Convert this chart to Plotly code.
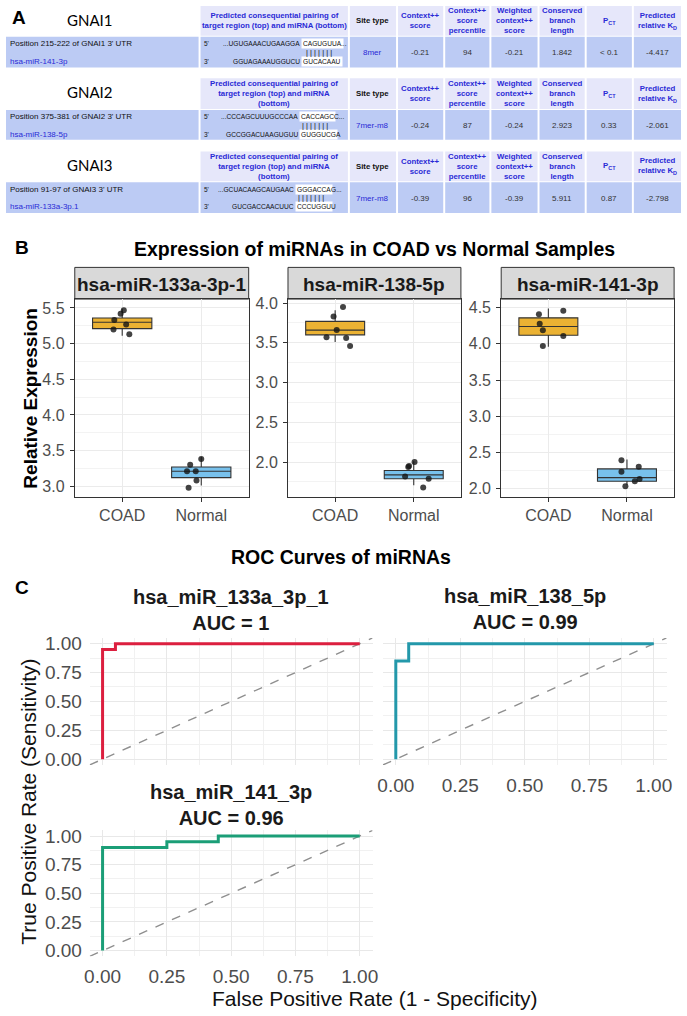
import plotly.graph_objects as go

W, H = 687, 1016
def X(p): return p / W
def Y(p): return 1 - p / H

# ---------------- Panel A data ----------------
genes = ["GNAI1", "GNAI2", "GNAI3"]
utr_positions = ["Position 215-222 of GNAI1 3' UTR",
                 "Position 375-381 of GNAI2 3' UTR",
                 "Position 91-97 of GNAI3 3' UTR"]
mirna_names = ["hsa-miR-141-3p", "hsa-miR-138-5p", "hsa-miR-133a-3p.1"]
target_pre = ["...UGUGAAACUGAAGGA", "...CCCAGCUUUGCCCAA", "...GCUACAAGCAUGAAC"]
target_seed = ["CAGUGUUA", "CACCAGC", "GGGACCA"]
target_post = ["...", "C...", "G..."]
mirna_pre = ["GGUAGAAAUGGUCU", "GCCGGACUAAGUGUU", "GUCGACCAACUUC"]
mirna_seed = ["GUCACAAU", "GUGGUCG", "CCCUGGU"]
mirna_post = ["", "A", "U"]
site_types = ["8mer", "7mer-m8", "7mer-m8"]
context_scores = ["-0.21", "-0.24", "-0.39"]
context_percentiles = ["94", "87", "96"]
weighted_scores = ["-0.21", "-0.24", "-0.39"]
branch_lengths = ["1.842", "2.923", "5.911"]
pct_values = ["< 0.1", "0.33", "0.87"]
kd_values = ["-4.417", "-2.061", "-2.798"]
pairing_headers = ["Predicted consequential pairing of<br>target region (top) and miRNA (bottom)",
                   "Predicted consequential pairing of<br>target region (top) and miRNA<br>(bottom)",
                   "Predicted consequential pairing of<br>target region (top) and miRNA<br>(bottom)"]
column_headers = ["Site type", "Context++<br>score", "Context++<br>score<br>percentile",
                  "Weighted<br>context++<br>score", "Conserved<br>branch<br>length",
                  "P<sub>CT</sub>", "Predicted<br>relative K<sub>D</sub>"]

# ---------------- Panel B data ----------------
expr_panels = ["hsa-miR-133a-3p-1", "hsa-miR-138-5p", "hsa-miR-141-3p"]
groups = ["COAD", "Normal"]
box_q1 = [[5.21, 3.12], [3.60, 1.79], [4.12, 2.10]]
box_median = [[5.30, 3.21], [3.66, 1.84], [4.24, 2.15]]
box_q3 = [[5.36, 3.27], [3.77, 1.895], [4.36, 2.27]]
box_low = [[5.11, 3.01], [3.51, 1.71], [3.96, 2.05]]
box_high = [[5.49, 3.41], [3.91, 2.01], [4.49, 2.40]]
pts_133_coad = [5.33, 5.42, 5.47, 5.27, 5.20, 5.13]
pts_133_normal = [3.30, 3.21, 3.21, 3.08, 3.38, 2.98]
pts_138_coad = [3.83, 3.95, 3.66, 3.57, 3.56, 3.46]
pts_138_normal = [1.94, 1.95, 2.00, 1.82, 1.79, 1.68]
pts_141_coad = [4.41, 4.28, 4.19, 3.97, 4.46, 4.11]
pts_141_normal = [2.39, 2.23, 2.30, 2.10, 2.13, 2.03]
jit_133_coad = [-0.10, -0.02, 0.02, 0.05, -0.11, 0.09]
jit_133_normal = [-0.14, -0.18, -0.07, -0.06, 0.00, -0.16]
jit_138_coad = [-0.02, 0.10, 0.02, -0.11, 0.14, 0.19]
jit_138_normal = [-0.07, -0.06, 0.01, -0.11, 0.19, 0.12]
jit_141_coad = [-0.12, -0.11, -0.07, -0.07, 0.19, 0.19]
jit_141_normal = [-0.07, -0.07, 0.15, 0.10, 0.16, -0.02]
expr_points = [[pts_133_coad, pts_133_normal], [pts_138_coad, pts_138_normal], [pts_141_coad, pts_141_normal]]
expr_jitter = [[jit_133_coad, jit_133_normal], [jit_138_coad, jit_138_normal], [jit_141_coad, jit_141_normal]]
expr_yranges = [[2.847, 5.625], [1.56, 4.05], [1.88, 4.62]]

# ---------------- Panel C data ----------------
roc_names = ["hsa_miR_133a_3p_1", "hsa_miR_138_5p", "hsa_miR_141_3p"]
roc_auc = ["1", "0.99", "0.96"]
fpr_133 = [0, 0, 0.05, 0.05, 1]
tpr_133 = [0, 0.95, 0.95, 1, 1]
fpr_138 = [0, 0, 0.05, 0.05, 1]
tpr_138 = [0, 0.85, 0.85, 1, 1]
fpr_141 = [0, 0, 0.25, 0.25, 0.45, 0.45, 1]
tpr_141 = [0, 0.90, 0.90, 0.95, 0.95, 1, 1]
roc_fpr = [fpr_133, fpr_138, fpr_141]
roc_tpr = [tpr_133, tpr_138, tpr_141]
roc_ticks = [0, 0.25, 0.5, 0.75, 1.0]

# ---------------- styles ----------------
FONT = "Liberation Sans"
HEAD_BG = "#e6e7fa"
DATA_BG = "#bccbf4"
LINK = "#2a2ad6"
BOX_COLORS = ["#ebb233", "#78c1ec"]
ROC_COLORS = ["#dc1f3f", "#2398aa", "#1b9e77"]

shapes, annotations = [], []

def txt(x, y, s, size, color="#000000", bold=False, xa="center", ya="middle",
        font=FONT, bg=None, pad=0, angle=0):
    if bold:
        s = "<b>" + s + "</b>"
    d = dict(x=X(x), y=Y(y), xref="paper", yref="paper", text=s, showarrow=False,
             xanchor=xa, yanchor=ya, borderpad=pad, textangle=angle,
             font=dict(size=size, color=color, family=font))
    if bg:
        d["bgcolor"] = bg
    annotations.append(d)

def rect(x0, y0, x1, y1, fill, line=None, lw=0):
    shapes.append(dict(type="rect", xref="paper", yref="paper",
                       x0=X(x0), x1=X(x1), y0=Y(y1), y1=Y(y0),
                       fillcolor=fill, line=dict(color=line or fill, width=lw),
                       layer="below"))

GLYPH = {"A": 0.667, "C": 0.722, "G": 0.778, "U": 0.722}
def seq_width(s, size):
    return sum(GLYPH.get(c, 0.278) for c in s) * size

# ---------------- Panel A ----------------
col_x = [(350, 397), (399, 445), (447, 492), (494, 541), (543, 589), (591, 637), (639, 687)]
left_col = (0, 196)
pair_col = (198, 348)
header_rows = [(1, 31), (74, 105), (148, 178)]
data_rows = [(32, 63), (106, 136), (179, 210)]
title_y = [15, 88, 162]
seed_x = [300, 298, 294]
SEQ = 6.6

txt(5, 13, "A", 19, bold=True, xa="left")
for i in range(3):
    h0, h1 = header_rows[i]
    d0, d1 = data_rows[i]
    txt(85, title_y[i], genes[i], 15, font="Lato")
    rect(pair_col[0], h0, pair_col[1], h1, HEAD_BG)
    rect(left_col[0], d0, left_col[1], d1, DATA_BG)
    rect(pair_col[0], d0, pair_col[1], d1, DATA_BG)
    txt((pair_col[0] + pair_col[1]) / 2, (h0 + h1) / 2, pairing_headers[i], 7.8, LINK, bold=True)
    values = [site_types[i], context_scores[i], context_percentiles[i], weighted_scores[i],
              branch_lengths[i], pct_values[i], kd_values[i]]
    for j, (c0, c1) in enumerate(col_x):
        rect(c0, h0, c1, h1, HEAD_BG)
        rect(c0, d0, c1, d1, DATA_BG)
        txt((c0 + c1) / 2, (h0 + h1) / 2, column_headers[j], 7.8,
            "#111111" if j == 0 else LINK, bold=True)
        txt((c0 + c1) / 2, (d0 + d1) / 2 + 0.5, values[j], 8,
            LINK if j == 0 else "#333333")
    txt(3, d0 + 7, utr_positions[i], 8, "#111111", xa="left")
    txt(3, d0 + 25, mirna_names[i], 8, LINK, xa="left")
    ty, py_, by = d0 + 7, d0 + 15.5, d0 + 25
    sx = seed_x[i]
    txt(200, ty, "5'", 6.5, "#111111", xa="left")
    txt(200, by, "3'", 6.5, "#111111", xa="left")
    txt(sx, ty, target_pre[i], SEQ, "#111111", xa="right")
    txt(sx, ty, target_seed[i], SEQ, "#111111", xa="left", bg="#ffffff", pad=1)
    txt(sx + seq_width(target_seed[i], SEQ) + 2, ty, target_post[i], SEQ, "#111111", xa="left")
    txt(sx, by, mirna_pre[i], SEQ, "#111111", xa="right")
    txt(sx, by, mirna_seed[i], SEQ, "#111111", xa="left", bg="#ffffff", pad=1)
    if mirna_post[i]:
        txt(sx + seq_width(mirna_seed[i], SEQ) + 2, by, mirna_post[i], SEQ, "#111111", xa="left")
    txt(sx + seq_width(target_seed[i], SEQ) / 2, py_, " ".join(["|"] * 7), 7.5, "#111111")

# ---------------- Panel B ----------------
fig = go.Figure()
b_x = [(70, 247), (287, 463), (504, 680)]
B_TOP, B_BOT, STRIP_TOP = 297, 497, 265
txt(8, 245, "B", 19, bold=True, xa="left")
txt(375, 246, "Expression of miRNAs in COAD vs Normal Samples", 19.5, bold=True)
txt(25, 397, "Relative Expression", 19, bold=True, angle=-90)
layout_axes = {}
for k in range(3):
    n = k + 1
    xa_name = "x" if n == 1 else f"x{n}"
    ya_name = "y" if n == 1 else f"y{n}"
    for g in range(2):
        fig.add_trace(go.Box(
            x=[g + 1], q1=[box_q1[k][g]], median=[box_median[k][g]], q3=[box_q3[k][g]],
            lowerfence=[box_low[k][g]], upperfence=[box_high[k][g]],
            width=0.75, fillcolor=BOX_COLORS[g], line=dict(color="#333333", width=1.1),
            boxpoints=False, whiskerwidth=0, showlegend=False, hoverinfo="skip",
            xaxis=xa_name, yaxis=ya_name))
        fig.add_trace(go.Scatter(
            x=[g + 1 + j for j in expr_jitter[k][g]], y=expr_points[k][g], mode="markers",
            marker=dict(size=6, color="rgba(20,20,20,0.8)"), showlegend=False,
            hoverinfo="skip", xaxis=xa_name, yaxis=ya_name))
    x0, x1 = b_x[k]
    rect(x0, STRIP_TOP, x1, B_TOP, "#d9d9d9", "#333333", 1)
    txt((x0 + x1) / 2, (STRIP_TOP + B_TOP) / 2 + 1, expr_panels[k], 19, "#1a1a1a", bold=True)
    axk = "xaxis" if n == 1 else f"xaxis{n}"
    ayk = "yaxis" if n == 1 else f"yaxis{n}"
    common = dict(showline=True, linecolor="#333333", linewidth=1, mirror=True,
                  ticks="outside", ticklen=4, tickcolor="#333333", zeroline=False,
                  gridcolor="#ebebeb", gridwidth=1.1,
                  tickfont=dict(size=16, color="#4d4d4d", family=FONT))
    layout_axes[axk] = dict(domain=[X(x0), X(x1)], range=[0.4, 2.6], tickmode="array",
                            tickvals=[1, 2], ticktext=groups, anchor=ya_name, **common)
    layout_axes[ayk] = dict(domain=[Y(B_BOT), Y(B_TOP)], range=expr_yranges[k], dtick=0.5, tick0=0,
                            tickformat=".1f", anchor=xa_name, ticklabelstandoff=2,
                            minor=dict(dtick=0.25, showgrid=True, gridcolor="#f3f3f3", gridwidth=0.7),
                            **common)

# ---------------- Panel C ----------------
txt(341, 557, "ROC Curves of miRNAs", 19.5, bold=True)
txt(8, 588, "C", 19, bold=True, xa="left")
c_x = [(85.2, 373.1), (383.6, 672.4), (85.2, 373.1)]
c_y = [(639.2, 767.5), (639.2, 767.5), (833.5, 960.8)]
c_title_y = [611, 610, 808]
RANGE = [-0.05, 1.05]
for k in range(3):
    n = k + 4
    xa_name, ya_name = f"x{n}", f"y{n}"
    fig.add_trace(go.Scatter(x=RANGE, y=RANGE, mode="lines",
                             line=dict(color="#8f8f8f", width=1.4, dash="dash"),
                             showlegend=False, hoverinfo="skip", xaxis=xa_name, yaxis=ya_name))
    fig.add_trace(go.Scatter(x=roc_fpr[k], y=roc_tpr[k], mode="lines",
                             line=dict(color=ROC_COLORS[k], width=3),
                             showlegend=False, hoverinfo="skip", xaxis=xa_name, yaxis=ya_name))
    x0, x1 = c_x[k]
    y0, y1 = c_y[k]
    txt((x0 + x1) / 2, c_title_y[k],
        "<b>" + roc_names[k] + "</b><br><b>AUC = " + roc_auc[k] + "</b>", 20, "#1a1a1a")
    common = dict(range=RANGE, tickvals=roc_ticks, tickformat=".2f", showline=False, zeroline=False,
                  ticks="outside", ticklen=3, tickcolor="rgba(0,0,0,0)",
                  gridcolor="#e8e8e8", gridwidth=1.2,
                  minor=dict(dtick=0.125, tick0=0, showgrid=True, gridcolor="#f1f1f1", gridwidth=0.8),
                  tickfont=dict(size=19, color="#4d4d4d", family=FONT))
    layout_axes[f"xaxis{n}"] = dict(domain=[X(x0), X(x1)], anchor=ya_name,
                                    showticklabels=(k != 0), **common)
    layout_axes[f"yaxis{n}"] = dict(domain=[Y(y1), Y(y0)], anchor=xa_name,
                                    showticklabels=(k != 1), **common)

txt(22, 805, "True Positive Rate (Sensitivity)", 21, "#111111", angle=-90)
txt(376, 1003, "False Positive Rate (1 - Specificity)", 21, "#111111")

fig.update_layout(width=W, height=H, margin=dict(l=0, r=0, t=0, b=0),
                  paper_bgcolor="white", plot_bgcolor="rgba(0,0,0,0)",
                  shapes=shapes, annotations=annotations, **layout_axes)
fig.write_html("out.html")
